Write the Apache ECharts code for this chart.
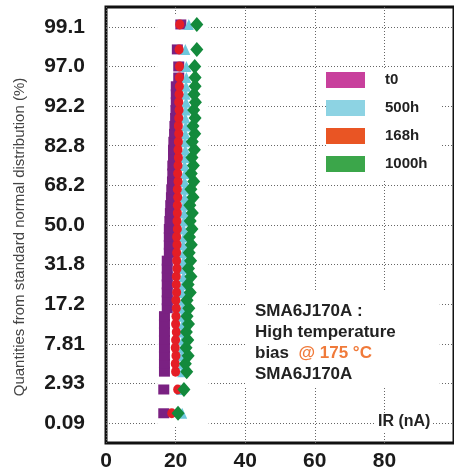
<!DOCTYPE html>
<html><head><meta charset="utf-8">
<script src="https://cdn.jsdelivr.net/npm/echarts@6/dist/echarts.min.js"></script>
<style>html,body{margin:0;padding:0;background:#fff}#c{width:454px;height:472px}</style>
</head><body><div id="c"></div>
<script>
// Probability axis: tick positions (in equal quantile steps) and their labels
const yTickPos = [0, 1, 2, 3, 4, 5, 6, 7, 8, 9, 10];
const yTickLabels = ["0.09", "2.93", "7.81", "17.2", "31.8", "50.0", "68.2", "82.8", "92.2", "97.0", "99.1"];
const seriesNames = ["t0", "500h", "168h", "1000h"];

// plotting positions (quantile steps) shared by all series
const plotPos = [0.25, 0.85,
  1.3, 1.5, 1.7, 1.9, 2.1, 2.3, 2.5, 2.7,
  2.9, 3.1, 3.3, 3.5, 3.7, 3.9, 4.1,
  4.3, 4.5, 4.7, 4.9,
  5.1, 5.3, 5.5, 5.7, 5.9, 6.1, 6.3, 6.5, 6.7, 6.9, 7.1, 7.3, 7.5, 7.7, 7.9, 8.1, 8.3, 8.5,
  8.72, 9.0, 9.43, 10.06];

// IR (nA) values
const irT0 = [16.6, 16.6,
  16.8, 16.8, 16.8, 16.8, 16.8, 16.8, 16.8, 16.8,
  17.6, 17.6, 17.6, 17.6, 17.6, 17.6, 17.6,
  18.2, 18.2, 18.2, 18.2,
  18.35, 18.5, 18.6, 18.8, 18.9, 19.1, 19.2, 19.2, 19.4, 19.4, 19.5, 19.7, 19.8, 20.0, 20.1, 20.2, 20.2, 20.2,
  20.9, 20.9, 20.5, 21.5];
const ir500h = [21.9, 21.5,
  21.9, 22.0, 21.8, 22.0, 22.1, 21.9, 22.1, 22.0,
  22.1, 22.2, 22.0, 22.2, 22.3, 22.1, 22.3,
  22.3, 22.2, 22.4, 22.3,
  22.4, 22.5, 22.4, 22.6, 22.5, 22.6, 22.7, 22.6, 22.7, 22.8, 22.7, 22.8, 22.9, 22.8, 22.9, 23.0, 22.9, 23.0,
  23.1, 23.1, 22.8, 23.8];
const ir168h = [18.9, 20.6,
  20.0, 19.9, 20.1, 19.9, 20.0, 20.2, 20.0, 20.1,
  20.2, 20.1, 20.3, 20.2, 20.2, 20.4, 20.3,
  20.3, 20.4, 20.3, 20.5,
  20.4, 20.5, 20.5, 20.6, 20.5, 20.7, 20.6, 20.7, 20.8, 20.7, 20.8, 20.9, 20.8, 20.9, 21.0, 20.9, 21.0, 21.1,
  21.1, 21.1, 21.0, 21.2];
const ir1000h = [20.7, 22.4,
  23.2, 22.8, 23.6, 23.0, 23.5, 23.1, 23.7, 23.3,
  23.8, 23.3, 24.2, 23.6, 24.4, 23.7, 24.3,
  23.9, 24.5, 24.0, 24.7,
  24.2, 24.8, 24.1, 25.0, 24.4, 25.2, 24.5, 25.1, 24.7, 25.4, 24.8, 25.5, 25.0, 25.6, 25.2, 25.7, 25.3, 25.6,
  25.6, 25.5, 26.1, 26.1];

const FONT = "'Liberation Sans', Arial, sans-serif";
const pairs = (xs) => xs.map((x, i) => [x, plotPos[i]]);
const gridLine = { show: true, lineStyle: { type: [1, 2], color: '#666', width: 1 } };

const chart = echarts.init(document.getElementById('c'), null, { renderer: 'canvas' });
chart.setOption({
  animation: false,
  backgroundColor: '#fff',
  textStyle: { fontFamily: FONT },
  grid: { left: 106, right: -4, top: 7, bottom: 27, show: true, borderColor: '#111', borderWidth: 3, backgroundColor: 'transparent' },
  xAxis: {
    type: 'value', min: 0, max: 100, interval: 20,
    axisLine: { show: false }, axisTick: { show: false },
    axisLabel: { fontSize: 21, fontWeight: 'bold', color: '#1a1a1a', margin: 8, showMaxLabel: false, fontFamily: FONT },
    splitLine: gridLine
  },
  yAxis: {
    type: 'value', min: -0.5, max: 10.5,
    axisLine: { show: false },
    axisTick: { show: false, customValues: yTickPos },
    axisLabel: { customValues: yTickPos, formatter: (v) => yTickLabels[Math.round(v)], fontSize: 21, fontWeight: 'bold', color: '#1a1a1a', margin: 21, fontFamily: FONT },
    splitLine: gridLine,
    name: 'Quantities from standard normal distribution (%)',
    nameLocation: 'middle', nameGap: 79,
    nameTextStyle: { fontSize: 15, color: '#444', fontFamily: FONT, padding: [0, 24, 0, 0] }
  },
  legend: {
    orient: 'vertical', left: 326, top: 70,
    itemWidth: 39, itemHeight: 16, itemGap: 12,
    padding: [2, 14, 8, 0], backgroundColor: '#fff',
    textStyle: { fontSize: 15, fontWeight: 'bold', color: '#222', fontFamily: FONT, padding: [0, 0, 0, 15] },
    data: [
      { name: 't0', icon: 'rect', itemStyle: { color: '#c8409c' } },
      { name: '500h', icon: 'rect', itemStyle: { color: '#8dd3e3' } },
      { name: '168h', icon: 'rect', itemStyle: { color: '#e95524' } },
      { name: '1000h', icon: 'rect', itemStyle: { color: '#3ba64a' } }
    ]
  },
  title: [
    {
      left: 245, top: 290, padding: [11, 44, 3, 10], backgroundColor: '#fff',
      text: '{b|SMA6J170A :}\n{b|High temperature}\n{b|bias  }{o|@ 175 °C}\n{b|SMA6J170A}',
      textStyle: { rich: {
        b: { fontSize: 17, fontWeight: 'bold', color: '#222', lineHeight: 21, fontFamily: FONT },
        o: { fontSize: 17, fontWeight: 'bold', color: '#f07a3a', lineHeight: 21, fontFamily: FONT }
      } }
    },
    {
      left: 376, top: 413, padding: [1, 2, 1, 2], backgroundColor: '#fff',
      text: 'IR (nA)',
      textStyle: { fontSize: 16, fontWeight: 'bold', color: '#222', fontFamily: FONT }
    }
  ],
  series: [
    {
      type: 'scatter', data: [], z: 1, silent: true,
      markArea: { silent: true, itemStyle: { color: '#fff' },
        data: [[{ xAxis: 14.7, yAxis: -0.08 }, { xAxis: 29.5, yAxis: 10.28 }]] }
    },
    { name: seriesNames[0], type: 'scatter', data: pairs(irT0), symbol: 'rect', symbolSize: [11, 10], itemStyle: { color: '#7a2182', opacity: 1 } },
    { name: seriesNames[1], type: 'scatter', data: pairs(ir500h), symbol: 'triangle', symbolSize: [10, 11], itemStyle: { color: '#6ec8dc', opacity: 1 } },
    { name: seriesNames[2], type: 'scatter', data: pairs(ir168h), symbol: 'circle', symbolSize: [9, 10], itemStyle: { color: '#e41e26', opacity: 1 } },
    { name: seriesNames[3], type: 'scatter', data: pairs(ir1000h), symbol: 'diamond', symbolSize: [13, 15], itemStyle: { color: '#138a3c', opacity: 1 } }
  ]
});
</script></body></html>
